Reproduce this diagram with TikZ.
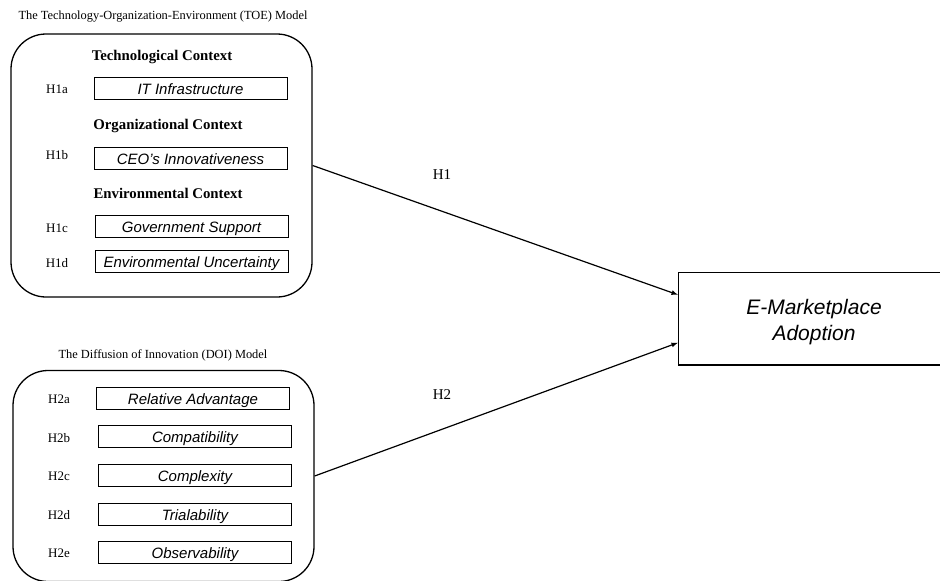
\documentclass[tikz,border=0pt]{standalone}
\usepackage{fontspec}
\setmainfont{Liberation Serif}
\newfontfamily\sansit{Liberation Sans}
\usepackage{tikz}
\usetikzlibrary{positioning}
\tikzset{>=latex}

\begin{document}
\begin{tikzpicture}[x=1pt, y=-1pt]
    % Define node styles
    \tikzstyle{model} = [rectangle, draw, line width=1.3pt, rounded corners=35pt, minimum width=301pt, inner sep=0pt]
    \tikzstyle{factor} = [rectangle, draw, line width=0.8pt, minimum width=193pt, minimum height=22pt, inner sep=0pt, text height=12pt, text depth=0pt, font=\sansit\itshape\fontsize{15}{18}\selectfont]
    \tikzstyle{hyp} = [font=\fontsize{13}{15}\selectfont]
    \tikzstyle{context} = [font=\bfseries\fontsize{14.8}{17}\selectfont]
    \tikzstyle{heading} = [font=\fontsize{12.4}{14}\selectfont]

    \useasboundingbox (0,0) rectangle (940,581);

    % TOE model
    \node[heading] (toetitle) at (163,17) {The Technology-Organization-Environment (TOE) Model};
    \node[model, minimum height=263pt] (toe) at (161.5,165.5) {};

    \node[context] (tech) at (162,57) {Technological Context};
    \node[hyp] (h1a) at (57,89) {H1a};
    \node[factor] (f1a) at (190.5,88) {IT Infrastructure};

    \node[context] (org) at (168,126) {Organizational Context};
    \node[hyp] (h1b) at (57,155) {H1b};
    \node[factor] (f1b) at (190.5,158) {CEO’s Innovativeness};

    \node[context] (env) at (168,193) {Environmental Context};
    \node[hyp] (h1c) at (57,228) {H1c};
    \node[factor] (f1c) at (191.5,226.5) {Government Support};
    \node[hyp] (h1d) at (57,263) {H1d};
    \node[factor] (f1d) at (191.5,261.5) {Environmental Uncertainty};

    % DOI model
    \node[heading] (doititle) at (163,355) {The Diffusion of Innovation (DOI) Model};
    \node[model, minimum height=211pt] (doi) at (163.5,476) {};

    \node[hyp] (h2a) at (59,399) {H2a};
    \node[factor] (f2a) at (193,398) {Relative Advantage};
    \node[hyp] (h2b) at (59,438) {H2b};
    \node[factor] (f2b) at (195,436.5) {Compatibility};
    \node[hyp] (h2c) at (59,476) {H2c};
    \node[factor] (f2c) at (195,475.5) {Complexity};
    \node[hyp] (h2d) at (59,515) {H2d};
    \node[factor] (f2d) at (195,514.5) {Trialability};
    \node[hyp] (h2e) at (59,553) {H2e};
    \node[factor] (f2e) at (195,552.5) {Observability};

    % Outcome
    \node[rectangle, draw, line width=1.2pt, minimum width=271pt, minimum height=92.5pt] (emp) at (814,318.75) {};
    \node[align=center, font=\sansit\itshape\fontsize{21}{26}\selectfont] (emptext) at ([yshift=-3.5pt]emp.center) {E-Marketplace\\Adoption};

    % Arrows from the models to the outcome
    \draw[->, line width=1.2pt] (toe.east) -- ([yshift=24pt]emp.west);
    \draw[->, line width=1.2pt] (doi.east) -- ([yshift=-24pt]emp.west);

    \node[font=\fontsize{15}{17}\selectfont] (h1) at (442,175) {H1};
    \node[font=\fontsize{15}{17}\selectfont] (h2) at (442,395) {H2};

\end{tikzpicture}
\end{document}
